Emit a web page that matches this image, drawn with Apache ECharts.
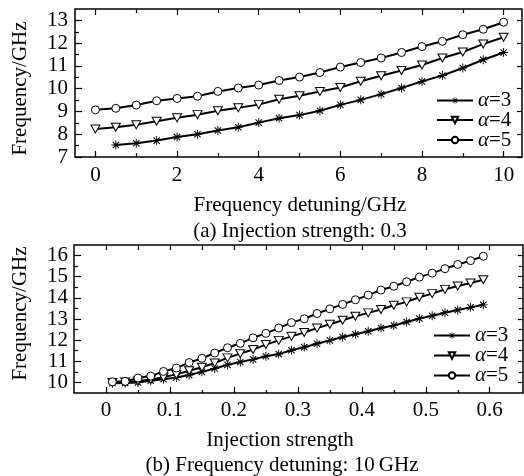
<!DOCTYPE html>
<html>
<head>
<meta charset="utf-8">
<script src="https://cdn.jsdelivr.net/npm/echarts@6/dist/echarts.min.js"></script>
<style>html,body{margin:0;padding:0;background:#fff}#c{width:524px;height:476px}</style>
</head>
<body>
<div id="c"></div>
<script>
// ---------- Data: chart (a) ----------
const detuning = [0,0.5,1,1.5,2,2.5,3,3.5,4,4.5,5,5.5,6,6.5,7,7.5,8,8.5,9,9.5,10];
const a3_x = [0.5,1,1.5,2,2.5,3,3.5,4,4.5,5,5.5,6,6.5,7,7.5,8,8.5,9,9.5,10];
const a3_y = [7.53,7.60,7.72,7.88,8.00,8.16,8.31,8.51,8.70,8.84,9.03,9.29,9.51,9.76,10.03,10.32,10.58,10.91,11.27,11.59];
const a4_y = [8.23,8.31,8.42,8.57,8.72,8.86,9.03,9.16,9.30,9.54,9.69,9.88,10.05,10.33,10.57,10.80,11.04,11.35,11.61,11.96,12.26];
const a5_y = [9.07,9.14,9.28,9.47,9.57,9.67,9.88,10.03,10.16,10.36,10.51,10.71,10.95,11.15,11.35,11.59,11.85,12.08,12.37,12.61,12.92];
const aXMajor = [0,2,4,6,8,10];
const aXMinor = [1,3,5,7,9];
const aYMajor = [7,8,9,10,11,12,13];
const aYMinor = [7.5,8.5,9.5,10.5,11.5,12.5];

// ---------- Data: chart (b) ----------
const strength = [0.01,0.03,0.05,0.07,0.09,0.11,0.13,0.15,0.17,0.19,0.21,0.23,0.25,0.27,0.29,0.31,0.33,0.35,0.37,0.39,0.41,0.43,0.45,0.47,0.49,0.51,0.53,0.55,0.57,0.59];
const b3_y = [9.96,9.97,10.00,10.08,10.15,10.23,10.35,10.50,10.66,10.83,10.97,11.09,11.24,11.34,11.52,11.67,11.83,11.99,12.15,12.28,12.42,12.57,12.69,12.86,13.02,13.15,13.30,13.43,13.55,13.67];
const b4_y = [10.00,10.02,10.07,10.14,10.25,10.38,10.55,10.72,10.92,11.16,11.36,11.56,11.79,11.99,12.18,12.36,12.57,12.75,12.94,13.13,13.29,13.45,13.65,13.81,14.03,14.20,14.40,14.56,14.70,14.86];
const b5_y = [10.03,10.05,10.21,10.30,10.52,10.68,10.94,11.14,11.39,11.64,11.85,12.11,12.32,12.57,12.83,13.01,13.26,13.48,13.69,13.91,14.13,14.37,14.55,14.76,14.98,15.17,15.38,15.58,15.76,15.97];
const bXMajor = [0,0.1,0.2,0.3,0.4,0.5,0.6];
const bXMinor = [0.05,0.15,0.25,0.35,0.45,0.55];
const bYMajor = [10,11,12,13,14,15,16];
const bYMinor = [10.5,11.5,12.5,13.5,14.5,15.5];
const legendNames = ['α=3','α=4','α=5'];

const FONT = 'Liberation Serif';
const FS = 21;

const starPath = 'path://M-0.5,-5L0.5,-5L0.5,5L-0.5,5Z M-5,-0.5L5,-0.5L5,0.5L-5,0.5Z M-3.08,-3.92L3.92,3.08L3.08,3.92L-3.92,-3.08Z M3.92,-3.08L-3.08,3.92L-3.92,3.08L3.08,-3.92Z';

function zip(xs, ys){ return xs.map((x,i)=>[x, ys[i]]); }

function tickAxis(grid, pos, min, max, ticks, len, labels, margin){
  return {
    type:'value', gridIndex:grid, position:pos, min:min, max:max,
    axisLine:{show:false, onZero:false}, splitLine:{show:false},
    axisTick:{show:true, inside:true, length:len, customValues:ticks, lineStyle:{color:'#000', width:1.2}},
    axisLabel: labels ? {show:true, customValues:labels, margin:margin, color:'#000', fontFamily:FONT, fontSize:FS} : {show:false}
  };
}

const xAxes = [
  // chart a
  tickAxis(0,'bottom',-0.5,10.45,aXMajor,6,aXMajor,8),
  tickAxis(0,'bottom',-0.5,10.45,aXMinor,4,null),
  tickAxis(0,'top',-0.5,10.45,aXMajor,6,null),
  tickAxis(0,'top',-0.5,10.45,aXMinor,4,null),
  // chart b
  tickAxis(1,'bottom',-0.05,0.652,bXMajor,6,bXMajor,7),
  tickAxis(1,'bottom',-0.05,0.652,bXMinor,3,null),
  tickAxis(1,'top',-0.05,0.652,bXMajor,5,null),
  tickAxis(1,'top',-0.05,0.652,bXMinor,5,null)
];
const yAxes = [
  tickAxis(0,'left',7,13.5,aYMajor,7,aYMajor,7),
  tickAxis(0,'left',7,13.5,aYMinor,4,null),
  tickAxis(0,'right',7,13.5,aYMajor,5,null),
  tickAxis(1,'left',9.5,16.5,bYMajor,7,bYMajor,6),
  tickAxis(1,'left',9.5,16.5,bYMinor,4,null),
  tickAxis(1,'right',9.5,16.5,bYMajor,5,null),
  tickAxis(1,'right',9.5,16.5,bYMinor,4,null)
];

function mkSeries(name, data, xi, yi, kind){
  const s = {
    type:'line', name:name, data:data, xAxisIndex:xi, yAxisIndex:yi,
    lineStyle:{color:'#000', width:2}, z:3, showAllSymbol:true
  };
  if (kind==='star'){ s.symbol = starPath; s.symbolSize = 9; s.itemStyle = {color:'#000', borderWidth:0}; }
  else if (kind==='tri'){ s.symbol = 'triangle'; s.symbolRotate = 180; s.symbolSize = [9,8]; s.itemStyle = {color:'#fff', borderColor:'#000', borderWidth:1}; }
  else { s.symbol = 'circle'; s.symbolSize = 8; s.itemStyle = {color:'#fff', borderColor:'#000', borderWidth:1}; }
  return s;
}

const series = [
  mkSeries(legendNames[0], zip(a3_x, a3_y), 0, 0, 'star'),
  mkSeries(legendNames[1], zip(detuning, a4_y), 0, 0, 'tri'),
  mkSeries(legendNames[2], zip(detuning, a5_y), 0, 0, 'circ'),
  mkSeries(legendNames[0], zip(strength, b3_y), 4, 3, 'star'),
  mkSeries(legendNames[1], zip(strength, b4_y), 4, 3, 'tri'),
  mkSeries(legendNames[2], zip(strength, b5_y), 4, 3, 'circ')
];

function legendItem(name, left, cy){
  return {
    data:[name], left:left, top:cy-10, orient:'vertical', padding:0,
    itemWidth:36, itemHeight:8, itemGap:0, selectedMode:false,
    formatter: n => '{i|α}' + n.slice(1),
    textStyle:{color:'#000', fontFamily:FONT, fontSize:FS, lineHeight:20,
      rich:{i:{fontStyle:'italic', fontFamily:FONT, fontSize:FS, color:'#000', lineHeight:20}}}
  };
}

const legends = [
  legendItem(legendNames[0], 436, 100),
  legendItem(legendNames[1], 436, 119.5),
  legendItem(legendNames[2], 436, 139.5),
  legendItem(legendNames[0], 433, 335),
  legendItem(legendNames[1], 433, 355),
  legendItem(legendNames[2], 433, 375)
];

function txt(text, x, y, rot){
  return {type:'text', x:x, y:y, rotation:rot||0, silent:true,
    style:{text:text, font:FS+'px "'+FONT+'"', fill:'#000', textAlign:'center', textVerticalAlign:'middle'}};
}

const option = {
  animation:false,
  backgroundColor:'#fff',
  grid:[
    {left:75, top:9, width:447, height:148, show:true, borderColor:'#000', borderWidth:1.5, backgroundColor:'transparent'},
    {left:74, top:245, width:449, height:148, show:true, borderColor:'#000', borderWidth:1.5, backgroundColor:'transparent'}
  ],
  xAxis:xAxes,
  yAxis:yAxes,
  legend:legends,
  series:series,
  graphic:[
    txt('Frequency/GHz', 20, 88.5, Math.PI/2),
    txt('Frequency detuning/GHz', 300, 205),
    txt('(a) Injection strength: 0.3', 300, 231),
    txt('Frequency/GHz', 20, 313.5, Math.PI/2),
    txt('Injection strength', 280, 440),
    txt('(b) Frequency detuning: 10\u2009GHz', 282, 465.5)
  ]
};

const chart = echarts.init(document.getElementById('c'), null, {renderer:'canvas'});
chart.setOption(option);
</script>
</body>
</html>
